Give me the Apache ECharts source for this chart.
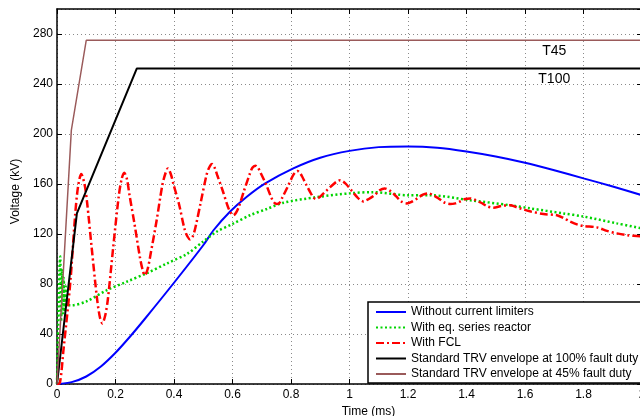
<!DOCTYPE html>
<html>
<head>
<meta charset="utf-8">
<script src="https://cdn.jsdelivr.net/npm/echarts@6/dist/echarts.min.js"></script>
<style>
  html, body { margin: 0; padding: 0; background: #fff; }
  #chart { width: 640px; height: 416px; }
</style>
</head>
<body>
<div id="chart"></div>
<script>
// Transient recovery voltage across the breaker, time in ms, voltage in kV
const seriesNames = [
  'Without current limiters',
  'With eq. series reactor',
  'With FCL',
  'Standard TRV envelope at 100% fault duty',
  'Standard TRV envelope at 45% fault duty'
];

// Without current limiters
const blueT = [0, 0.05, 0.1, 0.15, 0.2, 0.25, 0.3, 0.4, 0.5, 0.535, 0.592, 0.65, 0.712, 0.808, 0.9, 1.0, 1.1, 1.2, 1.3, 1.4, 1.5, 1.6, 1.7, 1.8, 1.9, 2.0];
const blueV = [0, 1.5, 6, 14, 25, 38, 52, 81, 111, 123, 138, 150, 160.5, 172.5, 181, 186.5, 189.5, 190, 189, 186, 182, 177, 171, 164.5, 158, 151];

// With equivalent series reactor
const greenT = [0, 0.004, 0.008, 0.011, 0.014, 0.017, 0.02, 0.023, 0.026, 0.03, 0.034, 0.04, 0.05, 0.1, 0.17, 0.24, 0.31, 0.376, 0.444, 0.5, 0.547, 0.6, 0.66, 0.717, 0.774, 0.888, 1.0, 1.08, 1.2, 1.276, 1.413, 1.55, 1.618, 1.73, 1.8, 1.914, 2.0];
const greenV = [0, 45, 90, 102, 50, 92, 55, 85, 58, 78, 62, 63, 63, 66, 75, 82, 89, 96.5, 104, 114, 122, 128, 135, 140, 145, 149.5, 152.5, 153.5, 151, 151, 147, 143, 140.5, 136.5, 134, 128.5, 124.5];

// With fault current limiter
const redT = [0, 0.01, 0.022, 0.045, 0.062, 0.072, 0.083, 0.094, 0.103, 0.119, 0.137, 0.147, 0.155, 0.165, 0.174, 0.192, 0.211, 0.221, 0.23, 0.239, 0.248, 0.265, 0.283, 0.292, 0.30, 0.31, 0.32, 0.34, 0.36, 0.37, 0.379, 0.389, 0.398, 0.417, 0.436, 0.446, 0.455, 0.464, 0.473, 0.492, 0.511, 0.52, 0.53, 0.539, 0.548, 0.566, 0.584, 0.594, 0.603, 0.612, 0.622, 0.64, 0.659, 0.668, 0.678, 0.687, 0.696, 0.715, 0.733, 0.743, 0.752, 0.761, 0.77, 0.787, 0.805, 0.813, 0.822, 0.83, 0.838, 0.853, 0.869, 0.877, 0.885, 0.895, 0.905, 0.925, 0.946, 0.957, 0.968, 0.978, 0.988, 1.008, 1.028, 1.038, 1.048, 1.057, 1.066, 1.085, 1.103, 1.12, 1.139, 1.158, 1.177, 1.196, 1.214, 1.232, 1.251, 1.27, 1.29, 1.307, 1.326, 1.344, 1.362, 1.378, 1.396, 1.413, 1.432, 1.45, 1.472, 1.492, 1.52, 1.55, 1.57, 1.59, 1.62, 1.663, 1.709, 1.73, 1.754, 1.78, 1.8, 1.846, 1.88, 1.914, 1.95, 2.0];
const redV = [0, 1, 27, 80, 135, 158, 168, 160, 145, 108, 68, 53, 48.5, 55, 68, 109, 150, 164, 169, 164, 151, 128, 102, 92, 87, 92, 104, 130, 159, 168, 172.5, 168, 160, 144, 124, 118, 115.7, 118, 125, 146, 167, 173, 176, 173, 167, 155, 142, 137, 135, 137, 142, 155, 168, 173, 174.7, 173, 169, 159.5, 149, 145, 144, 145, 149, 157, 166, 169, 170.4, 169, 166, 159, 152, 149, 148, 149, 151, 155.5, 160, 162, 163, 162, 160, 154.5, 149, 147, 146, 147, 148, 151, 155, 156.5, 154.5, 150.5, 146, 144.5, 146, 148.5, 151.5, 152.5, 150.5, 148, 145, 144, 144.5, 146, 148, 148.5, 147, 145, 142, 141, 142.5, 143, 141.5, 140, 138, 136, 135, 133, 130, 127.5, 126.4, 125.3, 122.5, 120.5, 119, 118];

// Standard TRV envelopes
const t100T = [0, 0.068, 0.273, 2.0];
const t100V = [0, 136.5, 252.5, 252.5];
const t45T = [0, 0.049, 0.1, 2.0];
const t45V = [0, 203, 275, 275];

// Envelope tags
const tagT45 = { text: 'T45', t: 1.7, v: 266.5 };
const tagT100 = { text: 'T100', t: 1.7, v: 244 };

// Axes
const xMin = 0, xMax = 2, xStep = 0.2;
const yMin = 0, yMax = 300, yStep = 40;

const pairs = (t, v) => t.map((x, i) => [x, v[i]]);
const FONT = '"Liberation Sans", Arial, Helvetica, sans-serif';

const tag = (p) => ({
  silent: true,
  symbol: 'rect',
  symbolSize: 1,
  itemStyle: { color: 'rgba(0,0,0,0)' },
  label: {
    show: true, position: 'inside', formatter: p.text,
    fontSize: 14, color: '#000', fontFamily: FONT
  },
  data: [{ coord: [p.t, p.v] }]
});

const chart = echarts.init(document.getElementById('chart'), null, { renderer: 'canvas' });

const axisCommon = {
  axisLine: { show: true, onZero: false, lineStyle: { color: '#000', width: 1.5 } },
  axisTick: { show: true, inside: true, length: 5, lineStyle: { color: '#000', width: 1 } }
};

chart.setOption({
  animation: false,
  backgroundColor: '#fff',
  textStyle: { fontFamily: FONT },
  grid: { left: 57, top: 9, width: 585, height: 375, containLabel: false, outerBoundsMode: 'none' },
  legend: {
    orient: 'vertical',
    left: 368, top: 302,
    itemWidth: 30, itemHeight: 12, itemGap: 3.5,
    padding: [4, 6, 3, 7],
    borderColor: '#000', borderWidth: 1.5,
    backgroundColor: '#fff',
    itemStyle: { opacity: 0 },
    textStyle: { fontSize: 12, color: '#000', fontFamily: FONT },
    data: seriesNames,
    z: 20
  },
  xAxis: [
    Object.assign({
      type: 'value', position: 'bottom',
      min: xMin, max: xMax, interval: xStep,
      name: 'Time (ms)', nameLocation: 'middle', nameGap: 20,
      nameTextStyle: { fontSize: 12, color: '#000', padding: [0, 0, 0, 38] },
      axisLabel: { fontSize: 12, color: '#000', margin: 5 },
      splitLine: { show: true, lineStyle: { color: '#8a8a8a', type: [1, 3], width: 1 } }
    }, axisCommon),
    Object.assign({
      type: 'value', position: 'top',
      min: xMin, max: xMax, interval: xStep,
      axisLabel: { show: false },
      splitLine: { show: false }
    }, axisCommon)
  ],
  yAxis: [
    Object.assign({
      type: 'value', position: 'left',
      min: yMin, max: yMax, interval: yStep,
      name: 'Voltage (kV)', nameLocation: 'middle', nameGap: 35,
      nameTextStyle: { fontSize: 12, color: '#000', padding: [0, 0, 0, 10] },
      axisLabel: { fontSize: 12, color: '#000', margin: 4, showMaxLabel: false },
      splitLine: { show: true, lineStyle: { color: '#8a8a8a', type: [1, 3], width: 1 } }
    }, axisCommon),
    Object.assign({
      type: 'value', position: 'right',
      min: yMin, max: yMax, interval: yStep,
      axisLabel: { show: false },
      splitLine: { show: false }
    }, axisCommon)
  ],
  series: [
    {
      name: seriesNames[0], type: 'line', symbol: 'none', smooth: 0.3, z: 3,
      lineStyle: { color: '#0000ff', width: 2 }, itemStyle: { color: '#0000ff' },
      data: pairs(blueT, blueV)
    },
    {
      name: seriesNames[1], type: 'line', symbol: 'none', smooth: 0.3, z: 4,
      lineStyle: { color: '#00d400', width: 2.5, type: [2, 2.5] }, itemStyle: { color: '#00d400' },
      data: pairs(greenT, greenV)
    },
    {
      name: seriesNames[2], type: 'line', symbol: 'none', smooth: 0.3, z: 5,
      lineStyle: { color: '#ff0000', width: 2.5, type: [8, 3, 2, 3] }, itemStyle: { color: '#ff0000' },
      data: pairs(redT, redV)
    },
    {
      name: seriesNames[3], type: 'line', symbol: 'none', z: 6,
      lineStyle: { color: '#000000', width: 2 }, itemStyle: { color: '#000000' },
      data: pairs(t100T, t100V),
      markPoint: tag(tagT100)
    },
    {
      name: seriesNames[4], type: 'line', symbol: 'none', z: 7,
      lineStyle: { color: '#9a5a5a', width: 1.5 }, itemStyle: { color: '#9a5a5a' },
      data: pairs(t45T, t45V),
      markPoint: tag(tagT45)
    }
  ]
});
</script>
</body>
</html>
